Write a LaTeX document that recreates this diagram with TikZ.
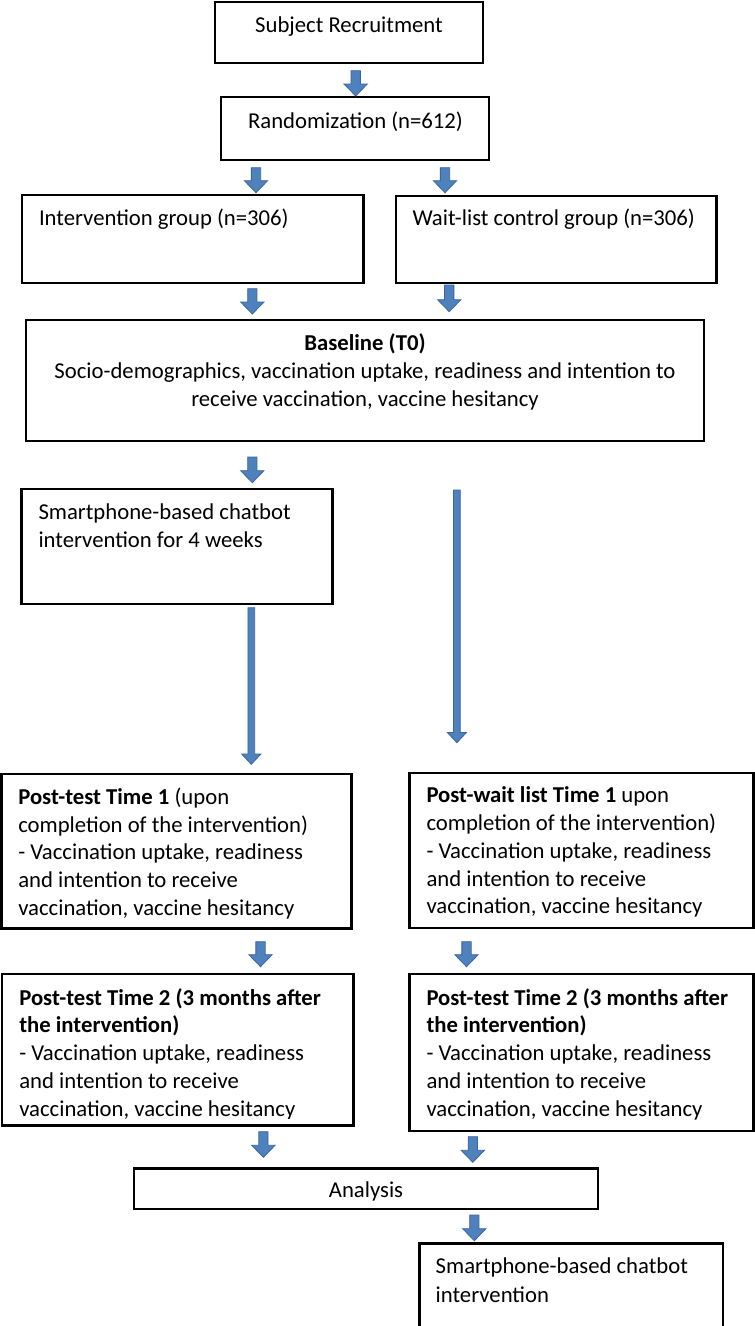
\documentclass[tikz,border=0pt]{standalone}
\usepackage{fontspec}
\setmainfont{Carlito}
\usetikzlibrary{calc}
\definecolor{arrowfill}{HTML}{4F81BD}
\definecolor{arrowline}{HTML}{3A66A0}
\newcommand\fsz[1]{\fontsize{22.7}{#1}\selectfont}
\newcommand\blockarrow[5]{%
  \path[barrow] let \p1=(#1), \p2=(#2) in
    (\x1-0.5*#3pt,\y1) -- (\x1+0.5*#3pt,\y1) -- (\x1+0.5*#3pt,\y2+#5pt)
    -- (\x1+0.5*#4pt,\y2+#5pt) -- (\x1,\y2) -- (\x1-0.5*#4pt,\y2+#5pt)
    -- (\x1-0.5*#3pt,\y2+#5pt) -- cycle;}
\newcommand\boxnode[5]{%
  \node[box, minimum width={(#4-#2)*1pt}, minimum height={(#5-#3)*1pt}] (#1) at (#2,#3) {};}
\begin{document}
\begin{tikzpicture}[x=1pt,y=-1pt,
  box/.style={draw=black, line width=2.4pt, inner sep=0pt, outer sep=0pt, anchor=north west, rectangle},
  txt/.style={inner sep=0pt, outer sep=0pt, anchor=base west},
  ctxt/.style={inner sep=0pt, outer sep=0pt, anchor=base},
  barrow/.style={fill=arrowfill, draw=arrowline, line width=0.8pt, line join=miter}]
\useasboundingbox (0,0) rectangle (755,1326);
\fill[white] (0,0) rectangle (755,1326);

% ---------- boxes ----------
\boxnode{rec}{215}{2}{483}{63}
\boxnode{rnd}{221}{97}{489}{160}
\boxnode{ig}{22}{195}{363.5}{283}
\boxnode{wl}{396}{196}{716.5}{283}
\boxnode{base}{26}{320}{704}{441}
\boxnode{chat}{21.5}{489}{332.5}{604}
\boxnode{tla}{1.5}{774}{351.5}{928.5}
\boxnode{tlb}{409.5}{773}{753.5}{928}
\boxnode{tta}{2}{974}{353.5}{1125.5}
\boxnode{ttb}{409.5}{974}{753.5}{1131}
\boxnode{ana}{134}{1168.5}{598}{1209}
\boxnode{fin}{419.5}{1243.5}{723}{1332}

% ---------- texts ----------
\node[ctxt] (trec) at (349,32.3) {\fsz{27.7}Subject Recruitment};
\node[ctxt] (trnd) at (355.5,128.3) {\fsz{27.7}Randomization (n=612)};
\node[txt] (tig) at (39,225) {\fsz{27.7}Intervention group (n=306)};
\node[txt] (twl) at (412.5,225.7) {\fsz{27.7}Wait-list control group (n=306)};
\node[ctxt] (tbase) at (365,350) {\fsz{28.35}\begin{tabular}[t]{@{}c@{}}
  \textbf{Baseline (T0)}\\
  Socio-demographics, vaccination uptake, readiness and intention to\\
  receive vaccination, vaccine hesitancy\end{tabular}};
\node[txt] (tchat) at (38.5,519.3) {\fsz{28.4}\begin{tabular}[t]{@{}l@{}}
  Smartphone-based chatbot\\ intervention for 4 weeks\end{tabular}};
\node[txt] (ttla) at (18.3,804.3) {\fsz{27.8}\begin{tabular}[t]{@{}l@{}}
  \textbf{Post-test Time 1} (upon\\
  completion of the intervention)\\
  - Vaccination uptake, readiness\\
  and intention to receive\\
  vaccination, vaccine hesitancy\end{tabular}};
\node[txt] (ttlb) at (426.5,802.7) {\fsz{27.8}\begin{tabular}[t]{@{}l@{}}
  \textbf{Post-wait list Time 1} upon\\
  completion of the intervention)\\
  - Vaccination uptake, readiness\\
  and intention to receive\\
  vaccination, vaccine hesitancy\end{tabular}};
\begin{scope}
  \clip (0,974) rectangle (360,1118);
  \node[txt] (ttta) at (19.3,1005) {\fsz{27.8}\begin{tabular}[t]{@{}l@{}}
    \textbf{Post-test Time 2 (3 months after}\\
    \textbf{the intervention)}\\
    - Vaccination uptake, readiness\\
    and intention to receive\\
    vaccination, vaccine hesitancy\end{tabular}};
\end{scope}
\node[txt] (tttb) at (426.5,1005) {\fsz{27.8}\begin{tabular}[t]{@{}l@{}}
  \textbf{Post-test Time 2 (3 months after}\\
  \textbf{the intervention)}\\
  - Vaccination uptake, readiness\\
  and intention to receive\\
  vaccination, vaccine hesitancy\end{tabular}};
\node[ctxt] (tana) at (366,1197.5) {\fsz{27.7}Analysis};
\node[txt] (tfin) at (435.7,1273.3) {\fsz{29.4}\begin{tabular}[t]{@{}l@{}}
  Smartphone-based chatbot\\ intervention\end{tabular}};

% ---------- arrow end points ----------
\coordinate (a1s) at (355.7,70.7);   \coordinate (a1e) at (355.7,96);
\coordinate (a2s) at (256,167.7);    \coordinate (a2e) at (256,192.7);
\coordinate (a3s) at (445,167.7);    \coordinate (a3e) at (445,192.7);
\coordinate (a4s) at (252.3,288.7);  \coordinate (a4e) at (252.3,314);
\coordinate (a5s) at (449.2,285);    \coordinate (a5e) at (449.2,311.7);
\coordinate (a6s) at (252.3,457);    \coordinate (a6e) at (252.3,482.7);
\coordinate (a7s) at (251.3,607.7);  \coordinate (a7e) at (251.3,764.3);
\coordinate (a8s) at (456.9,490);    \coordinate (a8e) at (456.9,742.7);
\coordinate (a9s) at (260.5,941.7);  \coordinate (a9e) at (260.5,966.7);
\coordinate (a10s) at (466.5,941.7); \coordinate (a10e) at (466.5,966.7);
\coordinate (a11s) at (263.4,1131.7);\coordinate (a11e) at (263.4,1157.3);
\coordinate (a12s) at (472.8,1136.7);\coordinate (a12e) at (472.8,1162.3);
\coordinate (a13s) at (474.3,1215);  \coordinate (a13e) at (474.3,1240.7);

% ---------- block arrows ----------
\blockarrow{a1s}{a1e}{9.3}{23.3}{12}
\blockarrow{a2s}{a2e}{9.3}{23.3}{12}
\blockarrow{a3s}{a3e}{9.3}{23.3}{12}
\blockarrow{a4s}{a4e}{9.3}{23.3}{12}
\blockarrow{a5s}{a5e}{9.3}{23.3}{12}
\blockarrow{a6s}{a6e}{9.3}{23.3}{12}
\blockarrow{a7s}{a7e}{6.8}{19.3}{10.3}
\blockarrow{a8s}{a8e}{6.8}{19.3}{10.3}
\blockarrow{a9s}{a9e}{9.3}{23.3}{12}
\blockarrow{a10s}{a10e}{9.3}{23.3}{12}
\blockarrow{a11s}{a11e}{9.3}{23.3}{12}
\blockarrow{a12s}{a12e}{9.3}{23.3}{12}
\blockarrow{a13s}{a13e}{9.3}{23.3}{12}
\end{tikzpicture}
\end{document}
